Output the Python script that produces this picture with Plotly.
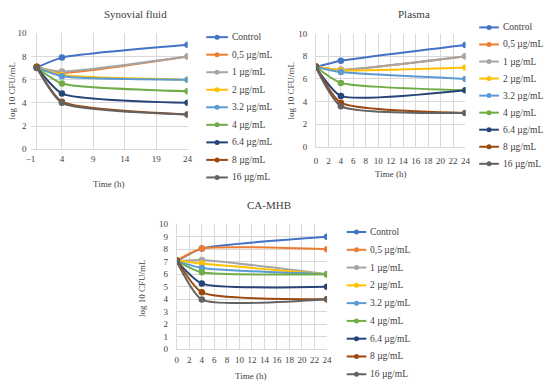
import plotly.graph_objects as go

times = [0, 4, 24]
series_names = ["Control", "0,5 µg/mL", "1 µg/mL", "2 µg/mL", "3.2 µg/mL",
                "4 µg/mL", "6.4 µg/mL", "8 µg/mL", "16 µg/mL"]
colors = ["#4472C4", "#ED7D31", "#A5A5A5", "#FFC000", "#5B9BD5",
          "#70AD47", "#264478", "#9E480E", "#636363"]

synovial = [
    [7.05, 7.9, 9.0],
    [7.1, 6.6, 8.0],
    [7.05, 6.7, 8.0],
    [7.1, 6.4, 6.0],
    [7.05, 6.3, 6.0],
    [7.05, 5.67, 5.0],
    [7.05, 4.8, 4.0],
    [7.1, 4.1, 3.0],
    [7.0, 4.0, 3.0],
]
plasma = [
    [7.05, 7.6, 9.0],
    [7.1, 6.8, 8.0],
    [7.05, 6.8, 8.0],
    [7.1, 6.75, 7.0],
    [7.05, 6.6, 6.0],
    [7.05, 5.65, 5.0],
    [7.0, 4.5, 5.0],
    [7.1, 3.9, 3.0],
    [7.0, 3.6, 3.0],
]
camhb = [
    [7.05, 8.05, 9.0],
    [7.1, 8.05, 8.0],
    [7.05, 7.14, 6.0],
    [7.1, 6.85, 6.0],
    [7.05, 6.5, 6.0],
    [7.05, 6.15, 6.0],
    [7.05, 5.25, 5.0],
    [7.1, 4.55, 4.0],
    [7.0, 3.97, 4.0],
]

W, H = 550, 389
FONT = "Liberation Serif"
GRID = "#D9D9D9"
TXT = "#404040"
SMOOTH = 0.55

fig = go.Figure()

panels = [
    dict(data=synovial, xa="x", ya="y"),
    dict(data=plasma, xa="x2", ya="y2"),
    dict(data=camhb, xa="x3", ya="y3"),
]

for p in panels:
    for name, col, vals in zip(series_names, colors, p["data"]):
        fig.add_trace(go.Scatter(
            x=times, y=vals, name=name, mode="lines+markers",
            line=dict(color=col, width=2, shape="spline", smoothing=SMOOTH),
            marker=dict(color=col, size=6.5),
            xaxis=p["xa"], yaxis=p["ya"], showlegend=False,
        ))

def px_x(v):
    return v / W

def px_y(v):
    return 1 - v / H

tickfont = dict(family=FONT, size=9, color=TXT)

def axis(**kw):
    d = dict(showgrid=True, gridcolor=GRID, gridwidth=1, showline=True,
             linecolor=GRID, linewidth=1, ticks="", zeroline=False,
             tickfont=tickfont)
    d.update(kw)
    return d

fig.update_layout(
    width=W, height=H, margin=dict(l=0, r=0, t=0, b=0),
    paper_bgcolor="white", plot_bgcolor="white",
    font=dict(family=FONT, size=9, color=TXT),
    showlegend=False,
    xaxis=axis(domain=[px_x(26), px_x(186)], range=[-1, 24], tick0=-1, dtick=5,
               anchor="y", zeroline=True, zerolinecolor=GRID, zerolinewidth=1,
               ticklabelstandoff=1),
    yaxis=axis(domain=[px_y(148), px_y(29)], range=[0, 10], dtick=2, anchor="x",
               showline=False, ticklabelstandoff=3),
    xaxis2=axis(domain=[px_x(316.7), px_x(469)], range=[0, 24], dtick=2, anchor="y2",
                ticklabelstandoff=5),
    yaxis2=axis(domain=[px_y(145.7), px_y(29.3)], range=[0, 10], dtick=2, anchor="x2",
                ticklabelstandoff=6),
    xaxis3=axis(domain=[px_x(175), px_x(328)], range=[0, 24], dtick=2, anchor="y3",
                ticklabelstandoff=2),
    yaxis3=axis(domain=[px_y(353.3), px_y(225)], range=[0, 10], dtick=1, anchor="x3",
                ticklabelstandoff=6),
)

ann = []
shapes = []
title_font = dict(family=FONT, size=11, color=TXT)
lab_font = dict(family=FONT, size=9, color=TXT)
ann.append(dict(text="Synovial fluid", x=px_x(133), y=px_y(9), font=title_font))
ann.append(dict(text="Plasma", x=px_x(417), y=px_y(9), font=title_font))
ann.append(dict(text="CA-MHB", x=px_x(269), y=px_y(205), font=title_font))
ann.append(dict(text="Time (h)", x=px_x(105), y=px_y(184), font=lab_font))
ann.append(dict(text="Time (h)", x=px_x(393), y=px_y(173), font=lab_font))
ann.append(dict(text="Time (h)", x=px_x(250), y=px_y(381), font=lab_font))
ann.append(dict(text="log 10 CFU/mL", x=px_x(7), y=px_y(88), font=lab_font, textangle=-90))
ann.append(dict(text="log 10 CFU/mL", x=px_x(291), y=px_y(88), font=lab_font, textangle=-90))
ann.append(dict(text="log 10 CFU/mL", x=px_x(139), y=px_y(290), font=lab_font, textangle=-90))
for a in ann:
    a.update(xref="paper", yref="paper", showarrow=False, xanchor="center", yanchor="middle")

# manual legends (line sample + dot + label) for each panel
legends = [
    dict(x0=205, x1=227, tx=229, y0=33, dy=18.0),
    dict(x0=483, x1=503, tx=505, y0=23, dy=17.5),
    dict(x0=348, x1=368, tx=370, y0=233, dy=18.25),
]
leg_font = dict(family=FONT, size=9.5, color=TXT)
for lg in legends:
    for i, (name, col) in enumerate(zip(series_names, colors)):
        yy = lg["y0"] + i * lg["dy"]
        shapes.append(dict(type="line", xref="paper", yref="paper",
                           x0=px_x(lg["x0"]), x1=px_x(lg["x1"]), y0=px_y(yy), y1=px_y(yy),
                           line=dict(color=col, width=2)))
        cx = (lg["x0"] + lg["x1"]) / 2
        shapes.append(dict(type="circle", xref="paper", yref="paper",
                           xsizemode="pixel", ysizemode="pixel",
                           xanchor=px_x(cx), yanchor=px_y(yy),
                           x0=-2.5, x1=2.5, y0=-2.5, y1=2.5,
                           fillcolor=col, line=dict(color=col, width=0)))
        ann.append(dict(text=name, x=px_x(lg["tx"]), y=px_y(yy), xref="paper", yref="paper",
                        showarrow=False, xanchor="left", yanchor="middle", font=leg_font))

fig.update_layout(annotations=ann, shapes=shapes)

fig.write_html("out.html", config={"displayModeBar": False},
               post_script="document.body.style.margin='0';document.body.style.overflow='hidden';")
